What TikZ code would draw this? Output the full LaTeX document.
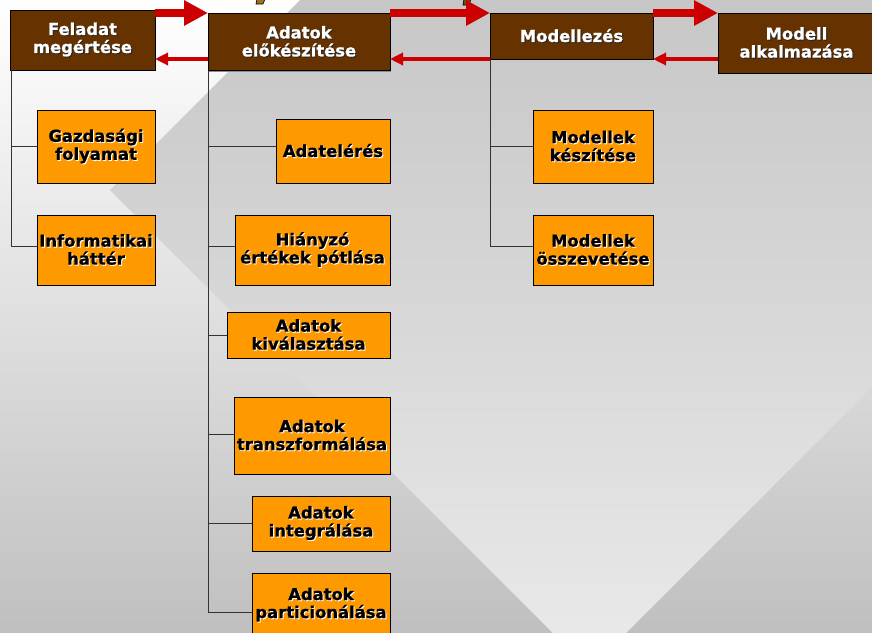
\documentclass[tikz,border=0pt]{standalone}
\usepackage{fontspec}
\setmainfont{DejaVu Sans}[BoldFeatures={FakeBold=0.8}]
\usetikzlibrary{arrows.meta,shadows}

\definecolor{boxbrown}{HTML}{663300}
\definecolor{boxorange}{HTML}{FF9900}
\definecolor{flowred}{HTML}{CC0000}
\definecolor{treegray}{HTML}{333333}
\definecolor{bgbottom}{gray}{0.75}
\definecolor{diamtop}{gray}{0.78}
\definecolor{diambottom}{gray}{0.91}
\definecolor{markgold}{HTML}{A0701A}

% one centred line of text with a 1pt offset shadow behind it
\newcommand\shtxt[2]{\makebox[0pt]{\rlap{\kern1pt\raisebox{-1pt}{\textcolor{#1}{#2}}}#2}}

\tikzset{
  basebox/.style={draw=black, line width=0.8pt, anchor=north west, inner sep=0pt,
    outer sep=0pt, align=center,
    font=\bfseries\fontsize{16.4}{18}\selectfont,
    drop shadow={shadow xshift=1.3pt, shadow yshift=-1.3pt, fill=black!45, opacity=1}},
  phasebox/.style={basebox, fill=boxbrown, text=white},
  taskbox/.style={basebox, fill=boxorange, text=black},
  treeline/.style={draw=treegray, line width=1pt},
  fwd/.style={draw=flowred, line width=7.5pt, -{Triangle[length=24pt,width=24pt]}},
  back/.style={draw=flowred, line width=3.5pt, -{Triangle[length=13pt,width=12pt]}},
}

\newcommand\wl[1]{\shtxt{black!85}{#1}}
\newcommand\bl[1]{\shtxt{white}{#1}}

\begin{document}
\begin{tikzpicture}[x=1pt,y=-1pt]
\useasboundingbox (0,0) rectangle (872,632);
\clip (0,0) rectangle (872,632);

% background: vertical gradient with a large lighter square turned on its corner
\shade[top color=white, bottom color=bgbottom] (0,0) rectangle (872,632);
\begin{scope}
  \clip (110,190) -- (589.5,-289.5) -- (1069,190) -- (589.5,669.5) -- cycle;
  \shade[top color=diamtop, bottom color=diambottom] (0,0) rectangle (872,632);
\end{scope}

% small marks at the top edge
\filldraw[fill=markgold, draw=black, line width=0.6pt] (257,-1) -- (265,-1) -- (263,4) -- (256,4) -- cycle;
\filldraw[fill=markgold!70!black, draw=black, line width=0.6pt] (464,-1) -- (471,-1) -- (469,5) -- (463,5) -- cycle;

% phases
\node[phasebox, minimum width=145pt, minimum height=60pt] (feladat) at (10,10)
  {\wl{Feladat}\\\wl{megértése}};
\node[phasebox, minimum width=182pt, minimum height=57.7pt] (adatok) at (208,13)
  {\wl{Adatok}\\\wl{előkészítése}};
\node[phasebox, minimum width=163pt, minimum height=46pt] (modellezes) at (490,13)
  {\wl{Modellezés}};
\node[phasebox, minimum width=157pt, minimum height=60pt] (modellalk) at (718,13)
  {\wl{Modell}\\\wl{alkalmazása}};

% tasks of the first phase
\node[taskbox, minimum width=118pt, minimum height=73pt] (gazd) at (37,110)
  {\bl{Gazdasági}\\\bl{folyamat}};
\node[taskbox, minimum width=118pt, minimum height=70pt] (info) at (37,215)
  {\bl{Informatikai}\\\bl{háttér}};

% tasks of data preparation
\node[taskbox, minimum width=114pt, minimum height=64pt] (adatel) at (276,119)
  {\bl{Adatelérés}};
\node[taskbox, minimum width=155pt, minimum height=70pt] (hiany) at (235,215)
  {\bl{Hiányzó}\\\bl{értékek pótlása}};
\node[taskbox, minimum width=163pt, minimum height=46pt] (kival) at (227,312)
  {\bl{Adatok}\\\bl{kiválasztása}};
\node[taskbox, minimum width=156pt, minimum height=77pt] (transz) at (234,397)
  {\bl{Adatok}\\\bl{transzformálása}};
\node[taskbox, minimum width=138pt, minimum height=55pt] (integr) at (252,496)
  {\bl{Adatok}\\\bl{integrálása}};
\node[taskbox, minimum width=138pt, minimum height=64pt] (partic) at (252,573)
  {\bl{Adatok}\\\bl{particionálása}};

% tasks of modelling
\node[taskbox, minimum width=120pt, minimum height=73pt] (mkesz) at (533,110)
  {\bl{Modellek}\\\bl{készítése}};
\node[taskbox, minimum width=120pt, minimum height=70pt] (mossz) at (533,215)
  {\bl{Modellek}\\\bl{összevetése}};

% tree connectors
\draw[treeline] ([xshift=1pt]feladat.south west) |- (gazd.west);
\draw[treeline] ([xshift=1pt]feladat.south west) |- ([yshift=4pt]info.west);

\draw[treeline] (adatok.south west) |- ([yshift=5pt]adatel.west);
\draw[treeline] (adatok.south west) |- ([yshift=4pt]hiany.west);
\draw[treeline] (adatok.south west) |- (kival.west);
\draw[treeline] (adatok.south west) |- ([yshift=1pt]transz.west);
\draw[treeline] (adatok.south west) |- (integr.west);
\draw[treeline] (adatok.south west) |- ([yshift=-7pt]partic.west);

\draw[treeline] (modellezes.south west) |- (mkesz.west);
\draw[treeline] (modellezes.south west) |- ([yshift=4pt]mossz.west);

% forward flow
\draw[fwd] ([yshift=-3pt]feladat.north east) -- (adatok.north west);
\draw[fwd] (adatok.north east) -- (modellezes.north west);
\draw[fwd] (modellezes.north east) -- (modellalk.north west);

% feedback flow
\coordinate (fb1) at ([yshift=11.7pt]adatok.south west);
\draw[back] (fb1) -- (fb1 -| feladat.east);
\draw[back] (modellezes.south west) -- (modellezes.south west -| adatok.east);
\draw[back] (modellezes.south east -| modellalk.west) -- (modellezes.south east);
\end{tikzpicture}
\end{document}
